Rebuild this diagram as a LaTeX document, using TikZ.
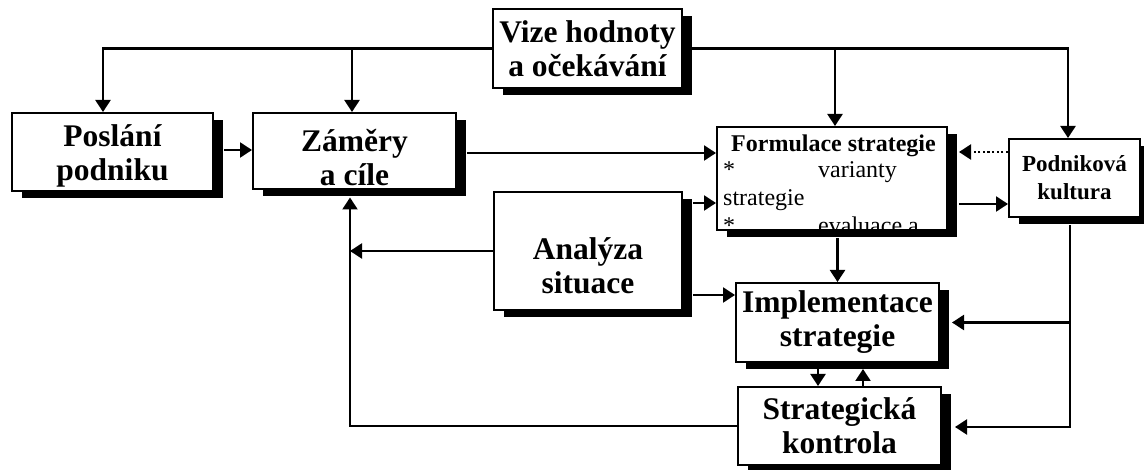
\documentclass[tikz,border=0pt]{standalone}
\usepackage{fontspec}
\setmainfont{Liberation Serif}
\usetikzlibrary{arrows.meta,shadows,calc}
\newcommand{\lowr}[1]{\rule{0pt}{#1}}
\begin{document}
\begin{tikzpicture}[x=1pt,y=-1pt,
  box/.style={draw, fill=white, line width=2pt, inner sep=0pt, align=center,
     general shadow={fill=black, shadow xshift=10pt, shadow yshift=-7.5pt},
     font=\bfseries\fontsize{31.5}{34}\selectfont},
  arr/.style={line width=2.3pt, -{Triangle[length=12pt,width=15pt]}},
  dots/.style={dash pattern=on 2.3pt off 2.3pt},
  txt/.style={inner sep=0pt, anchor=base west, font=\fontsize{24}{27}\selectfont}
]
\useasboundingbox (0,0) rectangle (1144,470);

\node[box, minimum width=189pt, minimum height=79pt] (vize) at (587.5,48.5) {Vize hodnoty\\a očekávání};
\node[box, minimum width=201pt, minimum height=78pt] (poslani) at (112.5,152) {\lowr{29pt}Poslání\\podniku};
\node[box, minimum width=203pt, minimum height=76pt] (zamery) at (354.5,151) {\lowr{35pt}Záměry\\a cíle};
\node[box, minimum width=230pt, minimum height=103pt] (formulace) at (832,178.5) {};
\node[box, minimum width=131pt, minimum height=78pt, font=\bfseries\fontsize{23}{28}\selectfont] (podnik) at (1074.5,178) {Podniková\\kultura};
\node[box, minimum width=188pt, minimum height=118pt] (analyza) at (588,251) {\lowr{51pt}Analýza\\situace};
\node[box, minimum width=203pt, minimum height=79pt] (impl) at (837.5,322.5) {Implementace\\strategie};
\node[box, minimum width=203pt, minimum height=78pt] (kontrola) at (839.5,426) {Strategická\\kontrola};

\begin{scope}
\clip ($(formulace.north west)+(1.2,1.2)$) rectangle ($(formulace.south east)+(-1.2,-1.2)$);
\node[txt, font=\bfseries\fontsize{24}{27}\selectfont, anchor=base] (f1) at (833.5,152) {Formulace strategie};
\node[txt] (f2) at (723,178) {*};
\node[txt] (f3) at (818,178) {varianty};
\node[txt] (f4) at (723,206) {strategie};
\node[txt] (f5) at (723,234) {*};
\node[txt] (f6) at (818,234) {evaluace a};
\end{scope}

% from vision
\draw[arr] (vize.west) -| ([xshift=-9.5pt]poslani.north);
\draw[arr] (vize.west) -| ([xshift=-2.5pt]zamery.north);
\draw[arr] (vize.east) -| ([xshift=3pt]formulace.north);
\draw[arr] (vize.east) -| ([xshift=-6.5pt]podnik.north);

% horizontal flows
\draw[arr] ($(poslani.east)+(10,-2)$) -- ($(poslani.east -| zamery.west)+(0,-2)$);
\draw[arr] ($(zamery.east)+(10,2)$) -- ($(zamery.east -| formulace.west)+(0,2)$);
\draw[arr, dots] ($(podnik.west)+(0,-26)$) -- ($(podnik.west -| formulace.east)+(11,-26)$);
\draw[arr] ($(formulace.east)+(11,25.5)$) -- ($(formulace.east -| podnik.west)+(0,25.5)$);
\draw[arr] ($(analyza.east)+(10,-48)$) -- ($(analyza.east -| formulace.west)+(0,-48)$);
\draw[arr] ($(analyza.east)+(10,44)$) -- ($(analyza.east -| impl.west)+(0,44)$);

% feedback on the left
\coordinate (lc) at (350,426);
\draw[arr] (analyza.west) -- (analyza.west -| lc);
\draw[arr] (kontrola.west) -| ($(zamery.south)+(-4.5,7.5)$);

% formulation to implementation
\draw[arr] ($(formulace.south -| impl.north)+(0,7.5)$) -- (impl.north);

% culture on the right
\coordinate (pv) at ($(podnik.south)+(-4.5,7.5)$);
\draw[arr] (pv) |- ($(kontrola.east)+(13,1)$);
\draw[arr] (pv |- impl.east) -- ($(impl.east)+(12,0)$);

% implementation <-> control
\draw[arr] ($(impl.south)+(-19.5,6)$) -- ($(kontrola.north)+(-21.5,0)$);
\draw[arr] ($(kontrola.north)+(23.5,0)$) -- ($(impl.south)+(25.5,6)$);
\end{tikzpicture}
\end{document}
